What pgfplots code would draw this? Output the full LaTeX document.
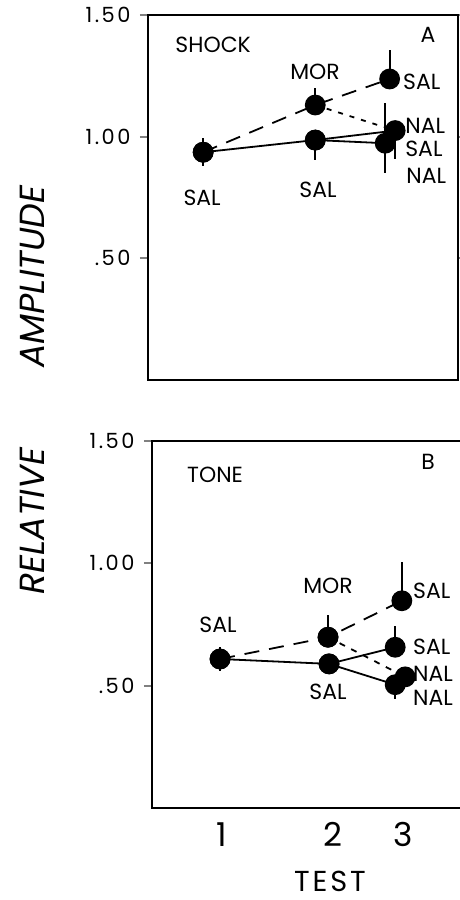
\documentclass[border=0pt]{standalone}
\usepackage{fontspec}
\setmainfont{Poppins}
\usepackage{pgfplots}
\pgfplotsset{compat=1.18}

\pgfplotsset{
  panel/.style={
    scale only axis, anchor=south west,
    ymin=0, ymax=1.5,
    ytick={0.5,1,1.5}, yticklabels={.50,1.00,1.50},
    axis line style={line width=1.8bp},
    major tick style={line width=1.8bp},
    tick align=outside, major tick length=8bp,
    yticklabel style={font=\fontsize{21}{21}\selectfont\addfontfeatures{LetterSpace=12}, xshift=-6bp},
    /pgf/number format/assume math mode=true,
    every axis plot/.append style={line width=1.8bp, black},
    clip=false,
  },
  dot/.style={mark=*, mark size=9.5bp, mark options={solid, fill=black}},
  eb/.style={error bars/y dir=both, error bars/y explicit,
    error bars/error mark=none,
    error bars/error bar style={line width=1.8bp, solid}},
}
\tikzset{lab/.style={font=\fontsize{22}{22}\selectfont, inner sep=0pt}}

\begin{document}
\begin{tikzpicture}
\useasboundingbox (0,0) rectangle (460bp,900bp);

% ---------- A: shock ----------
\begin{axis}[panel,
  at={(148bp,520bp)}, width=310bp, height=365bp,
  xmin=0.333, xmax=3.126, xtick=\empty]
% SAL-SAL-SAL
\addplot[dot, eb] coordinates {
  (0.83,0.936) +- (0,0.057)
  (1.84,0.986) += (0,0.02) -= (0,0.083)
  (2.47,0.973) += (0,0.165) -= (0,0.123)
};
% SAL-SAL-NAL
\addplot[dot, eb] coordinates {
  (1.84,0.986) +- (0,0)
  (2.56,1.025) += (0,0) -= (0,0.115)
};
% SAL-MOR-SAL
\addplot[dot, eb, dash pattern=on 15bp off 10bp] coordinates {
  (0.83,0.936) +- (0,0)
  (1.84,1.130) += (0,0.07) -= (0,0)
  (2.51,1.237) += (0,0.12) -= (0,0)
};
% SAL-MOR-NAL
\addplot[dash pattern=on 5bp off 7bp] coordinates {
  (1.84,1.130)
  (2.49,1.035)
};
\node[lab] at (axis cs:0.92,1.377) {SHOCK};
\node[lab] at (axis cs:2.856,1.418) {A};
\node[lab] at (axis cs:1.838,1.265) {MOR};
\node[lab, anchor=west] at (axis cs:2.63,1.224) {SAL};
\node[lab, anchor=west] at (axis cs:2.65,1.046) {NAL};
\node[lab, anchor=west] at (axis cs:2.65,0.950) {SAL};
\node[lab, anchor=west] at (axis cs:2.66,0.840) {NAL};
\node[lab] at (axis cs:0.82,0.747) {SAL};
\node[lab] at (axis cs:1.865,0.78) {SAL};
\end{axis}

% ---------- B: tone ----------
\begin{axis}[panel,
  at={(152bp,92bp)}, width=313bp, height=367bp,
  xmin=0.369, xmax=3.189,
  xtick={1,2,2.63}, xticklabels={1,2,3},
  xtick style={draw=none},
  xticklabel style={font=\fontsize{33}{33}\selectfont, yshift=-3bp}]
% SAL-SAL-SAL
\addplot[dot, eb] coordinates {
  (0.982,0.609) +- (0,0.05)
  (1.964,0.589) +- (0,0)
  (2.56,0.657) += (0,0.085) -= (0,0)
};
% SAL-SAL-NAL
\addplot[dot, eb] coordinates {
  (1.964,0.589) +- (0,0)
  (2.56,0.504) += (0,0) -= (0,0.06)
};
% SAL-MOR-SAL
\addplot[dot, eb, dash pattern=on 15bp off 10bp] coordinates {
  (0.982,0.609) +- (0,0)
  (1.955,0.698) += (0,0.09) -= (0,0)
  (2.62,0.847) += (0,0.16) -= (0,0)
};
% SAL-MOR-NAL
\addplot[dot, dash pattern=on 6bp off 7bp] coordinates {
  (1.955,0.698)
  (2.65,0.536)
};
\node[lab] at (axis cs:0.937,1.363) {TONE};
\node[lab] at (axis cs:2.856,1.415) {B};
\node[lab] at (axis cs:0.964,0.75) {SAL};
\node[lab] at (axis cs:1.955,0.907) {MOR};
\node[lab] at (axis cs:1.955,0.476) {SAL};
\node[lab, anchor=west] at (axis cs:2.72,0.887) {SAL};
\node[lab, anchor=west] at (axis cs:2.72,0.657) {SAL};
\node[lab, anchor=west] at (axis cs:2.72,0.550) {NAL};
\node[lab, anchor=west] at (axis cs:2.72,0.452) {NAL};
\end{axis}

\node[rotate=90, font=\fontsize{35}{35}\selectfont\itshape, inner sep=0pt]
  at (32bp,510bp) {RELATIVE\hspace{2.3em}AMPLITUDE};
\node[font=\fontsize{29}{29}\selectfont\addfontfeatures{LetterSpace=10}, inner sep=0pt, anchor=base]
  at (330bp,9bp) {TEST};
\end{tikzpicture}
\end{document}
